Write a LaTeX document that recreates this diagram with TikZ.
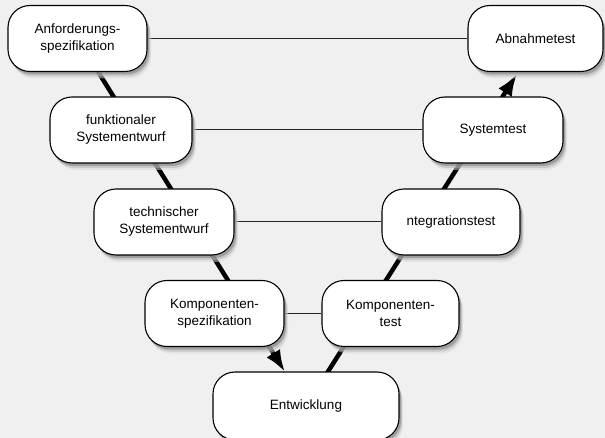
\documentclass[tikz,border=0pt]{standalone}
\usepackage{fontspec}
\setmainfont{Liberation Sans}
\usetikzlibrary{arrows.meta,shadows}
\pgfdeclarelayer{back}
\pgfdeclarelayer{background}
\pgfsetlayers{back,background,main}
\definecolor{bggrey}{RGB}{240,240,240}
\definecolor{sh1}{RGB}{215,215,215}
\definecolor{sh2}{RGB}{175,175,175}
\definecolor{sh3}{RGB}{120,120,120}
\tikzset{
  vbox/.style={draw=black, line width=1.1pt, fill=white, rounded corners=22pt,
    minimum height=66pt, inner sep=0pt, align=center,
    font=\fontsize{13.5}{17}\selectfont,
    drop shadow={shadow xshift=4pt, shadow yshift=-7pt, fill=sh1},
    drop shadow={shadow xshift=3pt, shadow yshift=-5pt, fill=sh2},
    drop shadow={shadow xshift=2pt, shadow yshift=-3pt, fill=sh3}},
  vline/.style={line width=4.5pt, black},
  hline/.style={line width=1pt, black!85}
}
\begin{document}
\begin{tikzpicture}[x=1pt,y=-1pt]
\begin{pgfonlayer}{back}
\fill[bggrey] (0,0) rectangle (605,438);
\end{pgfonlayer}
\useasboundingbox (0,0) rectangle (605,438);
\node[vbox, minimum width=139pt] (n1) at (77.5,38.5) {Anforderungs-\\spezifikation};
\node[vbox, minimum width=135pt] (n2) at (535.5,38.5) {Abnahmetest};
\node[vbox, minimum width=142pt] (n3) at (121,130) {funktionaler\\Systementwurf};
\node[vbox, minimum width=140pt] (n4) at (493,130) {Systemtest};
\node[vbox, minimum width=140pt] (n5) at (164,222) {technischer\\Systementwurf};
\node[vbox, minimum width=138pt] (n6) at (451,222) {ntegrationstest};
\node[vbox, minimum width=139pt] (n7) at (214.5,313.5) {Komponenten-\\spezifikation};
\node[vbox, minimum width=137pt] (n8) at (390.5,313.5) {Komponenten-\\test};
\node[vbox, minimum width=186pt, minimum height=68pt] (n9) at (306,406) {Entwicklung};
\coordinate (L1) at (92,62);
\coordinate (L2) at (285,372);
\coordinate (R1) at (322,381);
\coordinate (R2) at (517,74);
\begin{pgfonlayer}{background}
\draw[hline] (n1) -- (n2);
\draw[hline] (n3) -- (n4);
\draw[hline] (n5) -- (n6);
\draw[hline] (n7) -- (n8);
\draw[vline, -{Latex[length=22pt,width=16pt]}] (L1) -- (L2);
\draw[vline, -{Latex[length=22pt,width=16pt]}] (R1) -- (R2);
\end{pgfonlayer}
\end{tikzpicture}
\end{document}
